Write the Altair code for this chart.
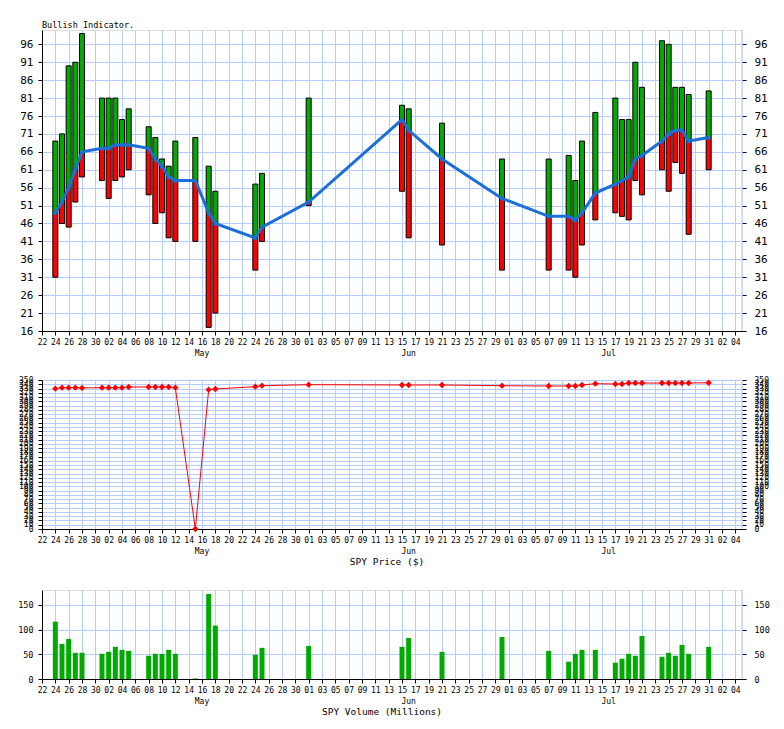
import altair as alt
import pandas as pd

dates = ["2023-04-24","2023-04-25","2023-04-26","2023-04-27","2023-04-28",
         "2023-05-01","2023-05-02","2023-05-03","2023-05-04","2023-05-05",
         "2023-05-08","2023-05-09","2023-05-10","2023-05-11","2023-05-12",
         "2023-05-15","2023-05-17","2023-05-18","2023-05-24","2023-05-25",
         "2023-06-01","2023-06-15","2023-06-16","2023-06-21","2023-06-30",
         "2023-07-07","2023-07-10","2023-07-11","2023-07-12","2023-07-14",
         "2023-07-17","2023-07-18","2023-07-19","2023-07-20","2023-07-21",
         "2023-07-24","2023-07-25","2023-07-26","2023-07-27","2023-07-28",
         "2023-07-31"]
low = [31, 46, 45, 52, 59, 58, 53, 58, 59, 61, 54, 46, 49, 42, 41, 41, 17, 21, 33, 41,
       51, 55, 42, 40, 33, 33, 33, 31, 40, 47, 49, 48, 47, 58, 54, 61, 55, 63, 60, 43, 61]
mid = [49, 52, 56, 61, 66, 67, 67, 68, 68, 68, 67, 64, 62, 59, 58, 58, 49, 46, 42, 45,
       52, 75, 72, 64, 53, 48, 48, 47, 49, 54.5, 57, 58, 59, 64, 65, 69, 71, 72, 72, 69, 70]
high = [69, 71, 90, 91, 99, 81, 81, 81, 75, 78, 73, 70, 64, 62, 69, 70, 62, 55, 57, 60,
        81, 79, 78, 74, 64, 64, 65, 58, 69, 77, 81, 75, 75, 91, 84, 97, 96, 84, 84, 82, 83]
price = [329.6, 331.9, 331.9, 331.9, 331.5, 331.9, 331.9, 331.9, 331.9, 333.6,
         333.6, 333.6, 333.6, 333.6, 331.9, 0, 327.2, 328.9, 334.3, 336.6,
         339.0, 338.3, 338.3, 338.3, 336.6, 335.9, 335.9, 335.9, 338.3, 341.3,
         340.6, 340.6, 342.9, 342.9, 342.9, 342.9, 342.9, 342.9, 342.9, 342.9, 343.6]
volume = [116, 71, 81, 53, 53, 51, 55, 65, 59, 57, 47, 51, 51, 59, 51, 1, 172, 108, 49, 63,
          67, 65, 83, 55, 85, 57, 35, 51, 59, 59, 33, 41, 51, 47, 87, 45, 53, 47, 69, 51, 65]

month_dates = ["2023-05-16", "2023-06-16", "2023-07-16"]
month_names = ["May", "Jun", "Jul"]
tick_dates = pd.date_range("2023-04-22", "2023-08-04", freq="2D")
ind_ticks = list(range(16, 97, 5))
price_ticks = list(range(0, 351, 10))
vol_ticks = [0, 50, 100, 150]

df = pd.DataFrame(dict(date=dates, low=low, mid=mid, high=high, price=price, volume=volume))
months = pd.DataFrame(dict(date=month_dates, name=month_names))

W = 700
H1, H2, H3 = 301, 149, 89
GRID = "#b4ccff"
FONT = "DejaVu Sans Mono"
RED = "#ff0000"
GREEN = "#00aa00"
BLUE = "#1a6fd8"

tick_vals = [alt.DateTime(year=d.year, month=d.month, date=d.day, utc=True) for d in tick_dates]
xscale = alt.Scale(type="utc", padding=0,
                   domain=[alt.DateTime(year=2023, month=4, date=22, utc=True),
                           alt.DateTime(year=2023, month=8, date=5, utc=True)])
xaxis = alt.Axis(values=tick_vals, format="%d", labelFont=FONT, labelFontSize=8, tickSize=4,
                 tickColor="black", domainColor="black", labelColor="black", gridColor=GRID,
                 grid=True, labelPadding=3, title=None, labelAngle=0, labelOverlap=False,
                 labelFlush=False)
X = alt.X("date:T", scale=xscale, axis=xaxis)


def left_axis(vals, fs):
    return alt.Axis(values=vals, grid=True, gridColor=GRID, tickSize=4, labelFont=FONT,
                    labelFontSize=fs, labelPadding=5, domainColor="black", tickColor="black",
                    labelColor="black", title=None, minExtent=33, maxExtent=33,
                    labelOverlap=False)


def right_axis(vals, fs):
    return alt.Axis(values=vals, orient="right", grid=False, domain=False, tickSize=4,
                    labelFont=FONT, labelFontSize=fs, labelPadding=8, tickColor="black",
                    labelColor="black", title=None, labelOverlap=False, labelAlign="left")


def month_layer(h):
    return alt.Chart(months).mark_text(font=FONT, fontSize=8, baseline="middle").encode(
        x=X, y=alt.value(h + 23), text="name:N")


def edge_rule(h):
    return alt.Chart(pd.DataFrame({"a": [0]})).mark_rule(color=GRID).encode(
        x=alt.value(W), y=alt.value(0), y2=alt.value(h))


# ---- top panel
ys1 = alt.Scale(domain=[16, 100], nice=False, zero=False)
base = alt.Chart(df)
red = base.mark_bar(color=RED, width=5).encode(
    x=X, y=alt.Y("low:Q", scale=ys1, axis=left_axis(ind_ticks, 11)), y2="mid:Q")
green = base.mark_bar(color=GREEN, width=5).encode(
    x=X, y=alt.Y("mid:Q", scale=ys1, axis=None), y2="high:Q")
outline = base.mark_bar(fillOpacity=0, stroke="black", strokeWidth=1, width=5).encode(
    x=X, y=alt.Y("low:Q", scale=ys1, axis=None), y2="high:Q")
line = base.mark_line(color=BLUE, strokeWidth=3).encode(
    x=X, y=alt.Y("mid:Q", scale=ys1, axis=None))
pts = base.mark_point(shape="triangle-up", filled=True, size=22, color=BLUE, opacity=1).encode(
    x=X, y=alt.Y("mid:Q", scale=ys1, axis=None))
raxis1 = base.mark_point(opacity=0).encode(
    x=X, y=alt.Y("mid:Q", scale=ys1, axis=right_axis(ind_ticks, 11)))
title1 = alt.Chart(pd.DataFrame({"t": ["Bullish Indicator."]})).mark_text(
    font=FONT, fontSize=8.5, align="left", baseline="alphabetic").encode(
    text="t:N", x=alt.value(0), y=alt.value(-2))
top = alt.layer(edge_rule(H1), red, green, outline, line, pts, raxis1, month_layer(H1), title1).resolve_axis(
    y="independent").properties(width=W, height=H1)

# ---- price panel
ys2 = alt.Scale(domain=[0, 350], nice=False, zero=True)
pline = base.mark_line(color=RED, strokeWidth=1).encode(
    x=X, y=alt.Y("price:Q", scale=ys2, axis=left_axis(price_ticks, 8)))
ppts = base.mark_point(shape="diamond", filled=True, size=40, color=RED, opacity=1).encode(
    x=X, y=alt.Y("price:Q", scale=ys2, axis=None))
raxis2 = base.mark_point(opacity=0).encode(
    x=X, y=alt.Y("price:Q", scale=ys2, axis=right_axis(price_ticks, 8)))
title2 = alt.Chart(pd.DataFrame({"t": ["SPY Price ($)"]})).mark_text(
    font=FONT, fontSize=9.5, baseline="middle").encode(
    text="t:N", x=alt.value(345), y=alt.value(H2 + 33))
mid_panel = alt.layer(edge_rule(H2), pline, ppts, raxis2, month_layer(H2), title2).resolve_axis(
    y="independent").properties(width=W, height=H2)

# ---- volume panel
ys3 = alt.Scale(domain=[0, 180], nice=False, zero=True)
vbars = base.mark_bar(color=GREEN, width=5).encode(
    x=X, y=alt.Y("volume:Q", scale=ys3, axis=left_axis(vol_ticks, 8.5)))
raxis3 = base.mark_point(opacity=0).encode(
    x=X, y=alt.Y("volume:Q", scale=ys3, axis=right_axis(vol_ticks, 8.5)))
title3 = alt.Chart(pd.DataFrame({"t": ["SPY Volume (Millions)"]})).mark_text(
    font=FONT, fontSize=9.5, baseline="middle").encode(
    text="t:N", x=alt.value(340), y=alt.value(H3 + 33))
vol_panel = alt.layer(edge_rule(H3), vbars, raxis3, month_layer(H3), title3).resolve_axis(
    y="independent").properties(width=W, height=H3)

inner = alt.vconcat(top, mid_panel, spacing=16)
chart = alt.vconcat(inner, vol_panel, spacing=22).properties(
    padding={"left": 0, "top": 12, "right": 5, "bottom": 5}
).configure_view(stroke=None).configure(background="white")

chart.save("out.html", embed_options={"renderer": "svg", "actions": False})
